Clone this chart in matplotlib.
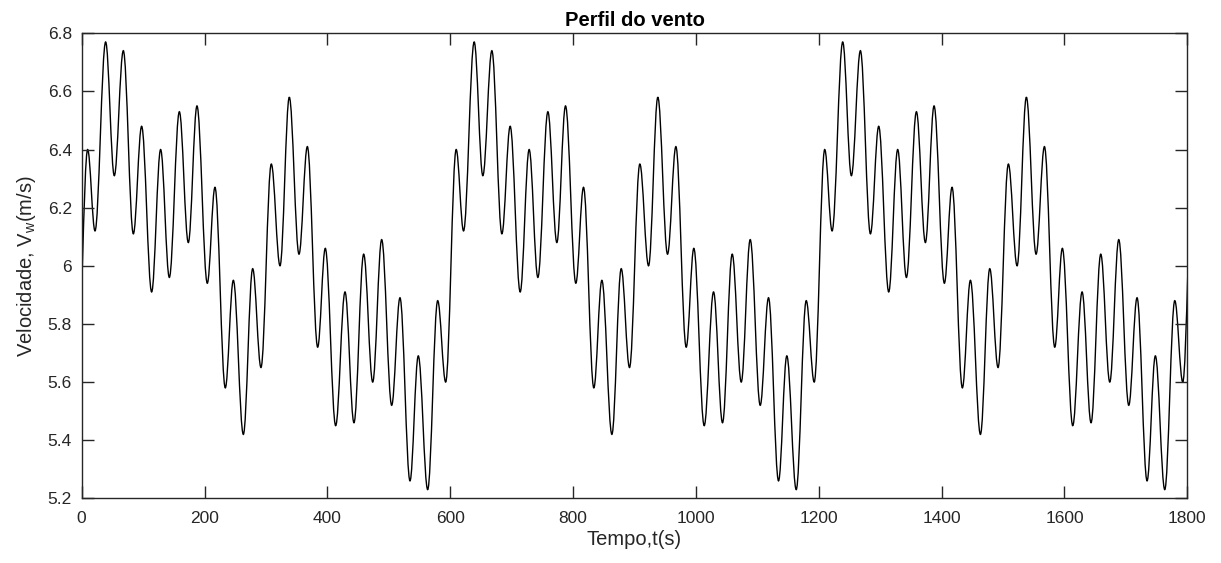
import numpy as np
import matplotlib
matplotlib.use('Agg')
import matplotlib.pyplot as plt
from matplotlib.path import Path
from matplotlib.patches import PathPatch

plt.rcParams['font.family'] = ['Liberation Sans', 'DejaVu Sans']
plt.rcParams['mathtext.default'] = 'regular'

# wind speed turning points over one 600 s cycle (s, m/s)
cycle_t = [9.7, 21.7, 39.0, 53.1, 67.8, 84.1, 97.6, 113.9, 128.5, 142.7,
           159.0, 173.6, 187.7, 204.5, 217.0, 233.8, 246.9, 263.2, 278.4, 291.9,
           308.7, 322.9, 338.0, 353.8, 367.4, 384.2, 396.6, 413.5, 428.7, 443.3,
           459.1, 473.8, 488.4, 504.7, 518.2, 534.5, 548.0, 563.3, 579.6, 592.6]
cycle_v = [6.40, 6.12, 6.77, 6.31, 6.74, 6.11, 6.48, 5.91, 6.40, 5.96,
           6.53, 6.08, 6.55, 5.94, 6.27, 5.58, 5.95, 5.42, 5.99, 5.65,
           6.35, 6.00, 6.58, 6.04, 6.41, 5.72, 6.06, 5.45, 5.91, 5.46,
           6.04, 5.60, 6.09, 5.52, 5.89, 5.26, 5.69, 5.23, 5.88, 5.60]
cycle_len = 600
n_cycles = 3

x_ticks = [0, 200, 400, 600, 800, 1000, 1200, 1400, 1600, 1800]
y_ticks = [5.2, 5.4, 5.6, 5.8, 6.0, 6.2, 6.4, 6.6, 6.8]
y_ticklabels = ['5.2', '5.4', '5.6', '5.8', '6', '6.2', '6.4', '6.6', '6.8']

# repeat the cycle, one extra on the left so the trace starts mid-swing at t=0
t_ext = np.concatenate([np.array(cycle_t) + k * cycle_len for k in range(-1, n_cycles + 1)])
v_ext = np.tile(cycle_v, n_cycles + 2)

# smooth trace: cubic segments with flat tangents at each turning point
c = 1 - 2 / np.pi
verts = [(t_ext[0], v_ext[0])]
codes = [Path.MOVETO]
for i in range(len(t_ext) - 1):
    dt = t_ext[i + 1] - t_ext[i]
    verts += [(t_ext[i] + c * dt, v_ext[i]),
              (t_ext[i + 1] - c * dt, v_ext[i + 1]),
              (t_ext[i + 1], v_ext[i + 1])]
    codes += [Path.CURVE4] * 3

fig = plt.figure(figsize=(12.21, 5.63), dpi=100)
ax = fig.add_axes([0.0669, 0.1149, 0.9055, 0.826])

ax.add_patch(PathPatch(Path(verts, codes), facecolor='none', edgecolor='black',
                       linewidth=1.0, clip_on=True))

ax.set_xlim(0, 1800)
ax.set_ylim(5.2, 6.8)
ax.set_xticks(x_ticks)
ax.set_yticks(y_ticks)
ax.set_yticklabels(y_ticklabels)

dark = '#262626'
for s in ax.spines.values():
    s.set_color(dark)
    s.set_linewidth(1.0)
ax.tick_params(direction='in', length=8.5, width=1.0, colors=dark,
               labelsize=12.5, top=True, right=True)
ax.tick_params(axis='x', pad=9)
ax.tick_params(axis='y', pad=7)

ax.set_xlabel('Tempo,t(s)', fontsize=14.5, color=dark, labelpad=3)
ax.set_ylabel('Velocidade, V$_w$(m/s)', fontsize=14.5, color=dark, labelpad=7)
ax.set_title('Perfil do vento', fontsize=14.5, fontweight='bold', color='black', pad=5)

plt.savefig('out.png', dpi=100)
plt.close()
